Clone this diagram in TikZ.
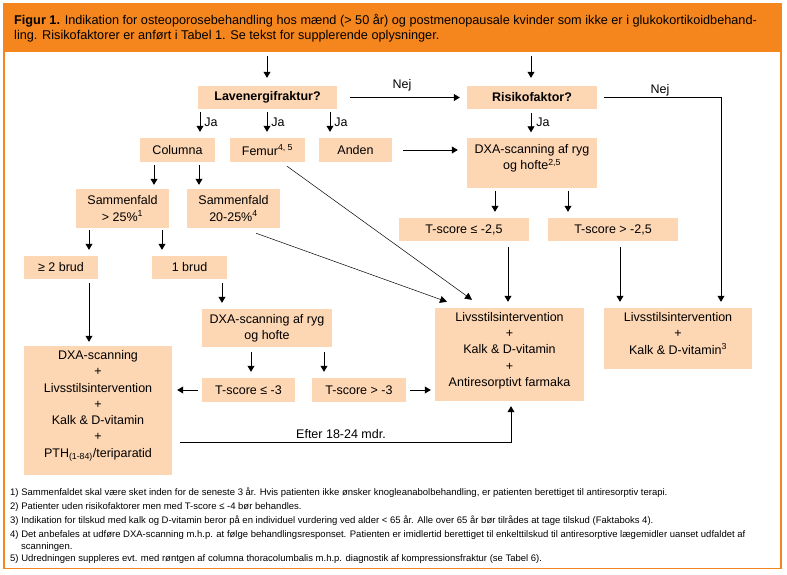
\documentclass[tikz,border=0pt]{standalone}
\usepackage{fontspec}
\setmainfont{Liberation Sans}
\newfontfamily\hdrfam{Liberation Sans}
\newfontfamily\ftfam{Liberation Sans}
\usetikzlibrary{arrows.meta}
\definecolor{orng}{RGB}{245,134,30}
\definecolor{peach}{RGB}{253,214,180}
\newcommand\nfnt{\fontsize{12.5}{16.3}\selectfont}
\newcommand\hfnt{\hdrfam\fontsize{12.7}{15}\selectfont}
\newcommand\ffnt{\ftfam\fontsize{9.5}{12}\selectfont}
\tikzset{
  box/.style={fill=peach, inner sep=0pt, align=center, font=\nfnt},
  lbl/.style={inner sep=0pt, font=\nfnt},
  arr/.style={draw, line width=0.8pt, -{Triangle[width=7pt,length=6pt]}, shorten <=4pt, shorten >=5.5pt},
  diag/.style={draw, line width=0.5pt, -{Triangle[width=7pt,length=7pt]}},
  foot/.style={anchor=base west, inner sep=0pt, font=\ffnt},
  hdr/.style={anchor=base west, inner sep=0pt, font=\hfnt, text=black}
}
\begin{document}
\begin{tikzpicture}[x=1pt,y=-1pt]
\useasboundingbox (0,0) rectangle (787,574);
% frame
\fill[orng] (3,3) rectangle (782,52);
\draw[orng, line width=1.6pt] (3.8,52) -- (3.8,568.5) -- (781.2,568.5) -- (781.2,52);
\node[hdr] (hd1) at (14,24) {\textbf{Figur 1.} Indikation for osteoporosebehandling hos mænd (> 50 år) og postmenopausale kvinder som ikke er i glukokortikoidbehand-};
\node[hdr] (hd2) at (14,39) {ling. Risikofaktorer er anført i Tabel 1. Se tekst for supplerende oplysninger.};

% nodes
\node[box, minimum width=139pt, minimum height=23pt] (lav) at (267.5,97.5) {\bfseries Lavenergifraktur?};
\node[box, minimum width=130pt, minimum height=23pt] (risk) at (532,97.5) {\bfseries Risikofaktor?};
\node[box, minimum width=75pt, minimum height=24pt] (col) at (177.5,150) {Columna};
\node[box, minimum width=75pt, minimum height=24pt] (fem) at (267.5,150) {Femur\textsuperscript{4, 5}};
\node[box, minimum width=73pt, minimum height=24pt] (and) at (355.5,150) {Anden};
\node[box, minimum width=130pt, minimum height=50pt] (dxa1) at (532,163) {};
\node[lbl, align=center, anchor=north] (dxa1t) at ([yshift=-6pt]dxa1.north) {DXA-scanning af ryg\\og hofte\textsuperscript{2,5}};
\node[box, minimum width=130pt, minimum height=23pt] (tsa) at (464,229.5) {T-score ≤ -2,5};
\node[box, minimum width=130pt, minimum height=23pt] (tsb) at (613,229.5) {T-score > -2,5};
\node[box, minimum width=93pt, minimum height=39pt] (s1) at (122.5,208.5) {Sammenfald\\> 25\%\textsuperscript{1}};
\node[box, minimum width=93pt, minimum height=39pt] (s2) at (233.5,208.5) {Sammenfald\\20-25\%\textsuperscript{4}};
\node[box, minimum width=74pt, minimum height=23pt] (b2) at (61,267.5) {≥ 2 brud};
\node[box, minimum width=75pt, minimum height=23pt] (b1) at (189.5,267.5) {1 brud};
\node[box, minimum width=130pt, minimum height=38pt] (dxa2) at (267,328) {DXA-scanning af ryg\\og hofte};
\node[box, minimum width=93pt, minimum height=24pt] (t3a) at (248.5,390) {T-score ≤ -3};
\node[box, minimum width=94pt, minimum height=24pt] (t3b) at (359,390) {T-score > -3};
\node[box, minimum width=148pt, minimum height=129pt] (big) at (98,410.5) {DXA-scanning\\+\\Livsstilsintervention\\+\\Kalk \& D-vitamin\\+\\PTH\textsubscript{(1-84)}/teriparatid\\[-3pt]};
\node[box, minimum width=149pt, minimum height=93pt] (mid) at (509.5,354.5) {Livsstilsintervention\\+\\Kalk \& D-vitamin\\+\\Antiresorptivt farmaka\\[-6pt]};
\node[box, minimum width=148pt, minimum height=61pt] (rgt) at (678,338.5) {Livsstilsintervention\\+\\Kalk \& D-vitamin\textsuperscript{3}\\[-6pt]};

% column coordinates
\coordinate (xlav) at (267,56);
\coordinate (xrisk) at (531,56);
\coordinate (x200) at (200,0);
\coordinate (x267) at (267,0);
\coordinate (x330) at (330,0);
\coordinate (x154) at (154,0);
\coordinate (x199) at (199,0);
\coordinate (x89) at (89,0);
\coordinate (x162) at (162,0);
\coordinate (x222) at (222,0);
\coordinate (x251) at (251,0);
\coordinate (x324) at (324,0);
\coordinate (x495) at (495,0);
\coordinate (x568) at (568,0);
\coordinate (x508) at (508,0);
\coordinate (x620) at (620,0);
\coordinate (x721) at (721,0);
\coordinate (x511) at (511,0);

% top arrows
\draw[arr, shorten <=0pt, shorten >=8pt] (xlav) -- (lav.north -| xlav);
\draw[arr, shorten <=0pt, shorten >=8pt] (xrisk) -- (risk.north -| xrisk);

% Ja arrows
\draw[arr, shorten <=3pt, shorten >=6pt] (lav.south -| x200) -- (col.north -| x200) node[lbl, pos=0.45, anchor=west, xshift=4pt] {Ja};
\draw[arr, shorten <=3pt, shorten >=6pt] (lav.south -| x267) -- (fem.north -| x267) node[lbl, pos=0.45, anchor=west, xshift=4pt] {Ja};
\draw[arr, shorten <=3pt, shorten >=6pt] (lav.south -| x330) -- (and.north -| x330) node[lbl, pos=0.45, anchor=west, xshift=4pt] {Ja};
\draw[arr] (risk.south -| xrisk) -- (dxa1.north -| xrisk) node[lbl, pos=0.45, anchor=west, xshift=5pt] {Ja};

% Nej
\draw[arr, shorten <=13pt, shorten >=7pt] (lav.east) -- (lav.east -| risk.west) node[lbl, midway, above=6pt] {Nej};
\draw[arr, shorten <=7pt, shorten >=6pt] (risk.east) -- (risk.east -| x721) -- (rgt.north -| x721);
\node[lbl] (nej2) at (660,90) {Nej};

% Anden -> DXA
\draw[arr, shorten <=11pt, shorten >=9pt] (and.east) -- (and.east -| dxa1.west);

% DXA1 -> T-scores
\draw[arr, shorten <=3pt, shorten >=6pt] (dxa1.south -| x495) -- (tsa.north -| x495);
\draw[arr, shorten <=3pt, shorten >=6pt] (dxa1.south -| x568) -- (tsb.north -| x568);
\draw[arr, shorten <=6pt, shorten >=6pt] (tsa.south -| x508) -- (mid.north -| x508);
\draw[arr, shorten <=6pt, shorten >=6pt] (tsb.south -| x620) -- (rgt.north -| x620);

% Columna
\draw[arr, shorten <=3pt, shorten >=4pt] (col.south -| x154) -- (s1.north -| x154);
\draw[arr, shorten <=3pt, shorten >=4pt] (col.south -| x199) -- (s2.north -| x199);
\draw[arr, shorten <=2pt, shorten >=6pt] (s1.south -| x89) -- (b2.north -| x89);
\draw[arr, shorten <=2pt, shorten >=6pt] (s1.south -| x162) -- (b1.north -| x162);
\draw[arr, shorten <=4pt, shorten >=4pt] (b2.south -| x89) -- (big.north -| x89);
\draw[arr, shorten <=4pt, shorten >=6pt] (b1.south -| x222) -- (dxa2.north -| x222);
\draw[arr, shorten <=5pt, shorten >=6pt] (dxa2.south -| x251) -- (t3a.north -| x251);
\draw[arr, shorten <=5pt, shorten >=6pt] (dxa2.south -| x324) -- (t3b.north -| x324);
\draw[arr, shorten <=4pt, shorten >=5pt] (t3a.west) -- (t3a.west -| big.east);
\draw[arr, shorten <=4pt, shorten >=4pt] (t3b.east) -- (t3b.east -| mid.west);

% diagonals
\draw[diag] ([shift={(19.5pt,-4pt)}]fem.south) -- ([shift={(-37.5pt,8pt)}]mid.north);
\draw[diag] ([shift={(22.5pt,-5pt)}]s2.south) -- ([shift={(-62.5pt,6pt)}]mid.north);

% after 18-24
\coordinate (effy) at (0,442);
\draw[arr, shorten <=8pt, shorten >=5pt] (big.east |- effy) -- (x511 |- effy) -- (mid.south -| x511);
\node[lbl] (eft) at (341,434) {Efter 18-24 mdr.};

% footnotes
\node[foot] (f1) at (10,495) {1) Sammenfaldet skal være sket inden for de seneste 3 år. Hvis patienten ikke ønsker knogleanabolbehandling, er patienten berettiget til antiresorptiv terapi.};
\node[foot] (f2) at (10,509.5) {2) Patienter uden risikofaktorer men med T-score ≤ -4 bør behandles.};
\node[foot] (f3) at (10,523.5) {3) Indikation for tilskud med kalk og D-vitamin beror på en individuel vurdering ved alder < 65 år. Alle over 65 år bør tilrådes at tage tilskud (Faktaboks 4).};
\node[foot] (f4) at (10,537) {4) Det anbefales at udføre DXA-scanning m.h.p. at følge behandlingsresponset. Patienten er imidlertid berettiget til enkelttilskud til antiresorptive lægemidler uanset udfaldet af};
\node[foot] (f4b) at (21,549.5) {scanningen.};
\node[foot] (f5) at (10,561) {5) Udredningen suppleres evt. med røntgen af columna thoracolumbalis m.h.p. diagnostik af kompressionsfraktur (se Tabel 6).};
\end{tikzpicture}
\end{document}
